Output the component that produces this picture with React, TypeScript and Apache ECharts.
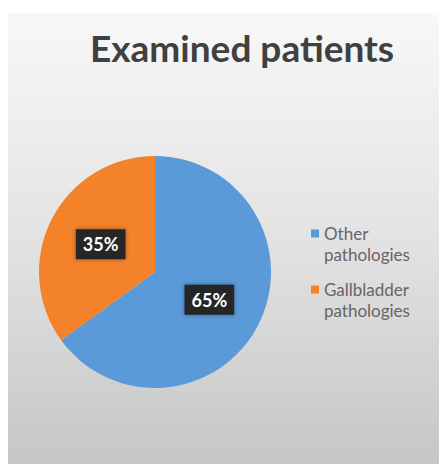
import React, { useEffect, useRef } from "react";
import * as echarts from "echarts";

const categories = ["Other pathologies", "Gallbladder pathologies"];
const values = [65, 35];
const colors = ["#5a9ad8", "#f4822a"];
const titleText = "Examined patients";

export default function App() {
  const ref = useRef<HTMLDivElement>(null);
  useEffect(() => {
    if (!ref.current) return;
    const chart = echarts.init(ref.current, undefined, { renderer: "svg" });
    chart.setOption({
      animation: false,
      backgroundColor: {
        type: "linear",
        x: 0,
        y: 0,
        x2: 0,
        y2: 1,
        colorStops: [
          { offset: 0, color: "#f8f8f8" },
          { offset: 0.5, color: "#e3e3e3" },
          { offset: 1, color: "#c6c6c6" },
        ],
      },
      title: {
        text: titleText,
        left: 82,
        top: 16,
        padding: 0,
        textStyle: {
          fontFamily: "Lato",
          fontWeight: "bold",
          fontSize: 37,
          color: "#404040",
        },
      },
      legend: {
        orient: "vertical",
        left: 303,
        top: 189,
        itemWidth: 8,
        itemHeight: 8,
        itemGap: -7,
        icon: "rect",
        padding: 0,
        data: categories,
        formatter: (name: string) => "\n" + name.replace(" ", "\n"),
        textStyle: {
          fontFamily: "Lato",
          fontSize: 17,
          lineHeight: 21,
          color: "#666666",
        },
      },
      series: [
        {
          type: "pie",
          center: [147, 259],
          radius: 116,
          startAngle: 90,
          clockwise: true,
          color: colors,
          label: {
            show: true,
            position: "inside",
            formatter: "{d}%",
            color: "#ffffff",
            fontFamily: "Lato",
            fontWeight: "bold",
            fontSize: 18,
            backgroundColor: "#262626",
            padding: [6, 7],
            shadowBlur: 4,
            shadowColor: "rgba(0,0,0,0.4)",
          },
          labelLine: { show: false },
          emphasis: { disabled: true },
          data: categories.map((c, i) => ({ name: c, value: values[i] })),
        },
      ],
    });
    return () => chart.dispose();
  }, []);
  return (
    <div
      ref={ref}
      style={{ position: "absolute", left: 8, top: 13, width: 431, height: 451 }}
    />
  );
}
